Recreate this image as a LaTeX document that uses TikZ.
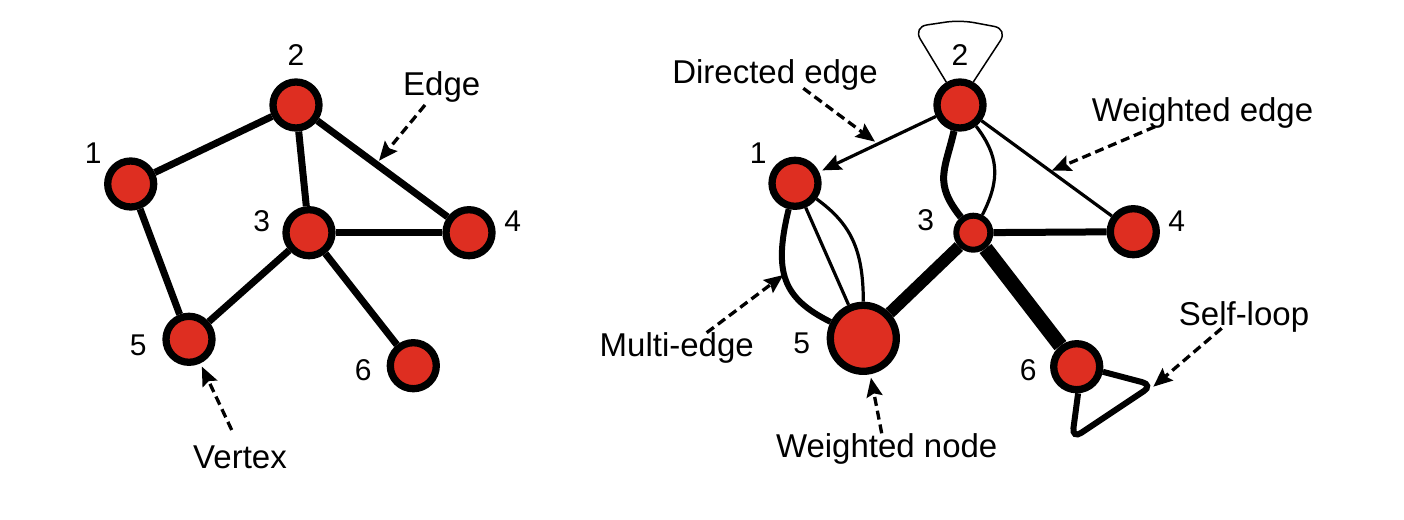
\documentclass[tikz,border=0pt]{standalone}
\usepackage{fontspec}
\setmainfont{Liberation Sans}
\usetikzlibrary{arrows.meta,backgrounds}
\definecolor{nodered}{RGB}{222,46,33}
\begin{document}
\begin{tikzpicture}[x=1pt,y=-1pt,
  vtx/.style={circle,draw=black,fill=nodered,line width=7.3pt,minimum size=46pt,inner sep=0pt},
  smallvtx/.style={vtx,line width=6pt,minimum size=34pt},
  bigvtx/.style={vtx,line width=7.3pt,minimum size=66pt},
  num/.style={font=\fontsize{30}{30}\selectfont,anchor=base,inner sep=0pt},
  lbl/.style={font=\fontsize{33}{33}\selectfont,anchor=base,inner sep=0pt},
  thickedge/.style={line width=7pt},
  thinedge/.style={line width=3.2pt},
  tip/.style={-{Stealth[length=19pt,width=16pt,inset=3pt]}},
  pointer/.style={line width=3.3pt,dash pattern=on 9pt off 5pt,tip},
]
\useasboundingbox (0,0) rectangle (1404,519);

% ---------- left graph ----------
\node[vtx] (l1) at (130.7,184) {};
\node[vtx] (l2) at (296,105) {};
\node[vtx] (l3) at (309,232.7) {};
\node[vtx] (l4) at (469,232.7) {};
\node[vtx] (l5) at (189,339.3) {};
\node[vtx] (l6) at (413.3,365.7) {};

\begin{scope}[on background layer]
\draw[thickedge] (l1) -- (l2);
\draw[thickedge] (l2) -- (l3);
\draw[thickedge] (l2) -- (l4);
\draw[thickedge] (l3) -- (l4);
\draw[thickedge] (l3) -- (l5);
\draw[thickedge] (l3) -- (l6);
\draw[thickedge] (l1) -- (l5);
\end{scope}

\node[num] (nl1) at (93.3,163.3) {1};
\node[num] (nl2) at (296,65) {2};
\node[num] (nl3) at (261.7,231.7) {3};
\node[num] (nl4) at (512.7,231.7) {4};
\node[num] (nl5) at (138.3,355) {5};
\node[num] (nl6) at (363.3,380) {6};

\node[lbl] (tEdge) at (441.7,95) {Edge};
\node[lbl] (tVertex) at (240,468.3) {Vertex};

\coordinate (aEdgeS) at (425,105);
\coordinate (aEdgeT) at (379,160.7);
\coordinate (aVertexS) at (231.7,430);
\draw[pointer] (aEdgeS) -- (aEdgeT);
\draw[pointer,shorten >=3.5pt] (aVertexS) -- (l5);

% ---------- right graph ----------
\node[vtx] (r1) at (795,183.3) {};
\node[vtx] (r2) at (960,105) {};
\node[smallvtx] (r3) at (973.3,232.7) {};
\node[vtx] (r4) at (1133.3,231.7) {};
\node[bigvtx] (r5) at (863.3,338.3) {};
\node[vtx] (r6) at (1076.7,366.7) {};

\coordinate (s6a) at (1153,385);
\coordinate (s6b) at (1072,439);
\coordinate (s2a) at (913,27);
\coordinate (s2b) at (960,20);
\coordinate (s2c) at (1008,29);

\begin{scope}[on background layer]
\draw[thinedge] (r2) -- (r4);
\draw[thickedge] (r2) .. controls +(-15,65) and +(-40,-50) .. (r3);
\draw[thinedge] (r2) .. controls +(38,50) and +(28,-55) .. (r3);
\draw[thickedge] (r3) -- (r4);
\draw[line width=12pt] (r3) -- (r5);
\draw[line width=15pt] (r3) -- (r6);
\draw[line width=6pt] (r1) .. controls +(-22,90) and +(-80,-40) .. (r5);
\draw[thinedge] (r1) -- (r5);
\draw[thinedge] (r1) .. controls +(55,40) and +(0,-90) .. (r5);
\draw[line width=6pt,rounded corners=11pt] (r6.-11) -- (s6a) -- (s6b) -- (r6.-87);
\draw[line width=1.5pt,rounded corners=14pt] (r2.121) -- (s2a) -- (s2b) -- (s2c) -- (r2.60);
\end{scope}
\draw[thinedge,tip,shorten >=3.5pt] (r2) -- (r1);

\node[num] (nr1) at (758.3,163.3) {1};
\node[num] (nr2) at (960,65) {2};
\node[num] (nr3) at (925.7,230) {3};
\node[num] (nr4) at (1176.7,231.7) {4};
\node[num] (nr5) at (801.7,353.3) {5};
\node[num] (nr6) at (1028.3,380.5) {6};

\node[lbl] (tDir) at (775,83.3) {Directed edge};
\node[lbl] (tWE) at (1202.5,121.7) {Weighted edge};
\node[lbl] (tME) at (676.7,356.7) {Multi-edge};
\node[lbl] (tWN) at (886.7,457.3) {Weighted node};
\node[lbl] (tSL) at (1244,325) {Self-loop};

\coordinate (aDirS) at (803.3,88.3);
\coordinate (aDirT) at (875,141.7);
\coordinate (aWES) at (1155,126.7);
\coordinate (aWET) at (1051.7,170.7);
\coordinate (aMES) at (706.7,332.7);
\coordinate (aMET) at (783.3,275);
\coordinate (aWNS) at (881.7,433.3);
\coordinate (aSLS) at (1221.7,328.3);
\coordinate (aSLT) at (1153.3,386.7);
\draw[pointer] (aDirS) -- (aDirT);
\draw[pointer] (aWES) -- (aWET);
\draw[pointer] (aMES) -- (aMET);
\draw[pointer,shorten >=3.5pt] (aWNS) -- (r5);
\draw[pointer] (aSLS) -- (aSLT);
\end{tikzpicture}
\end{document}
